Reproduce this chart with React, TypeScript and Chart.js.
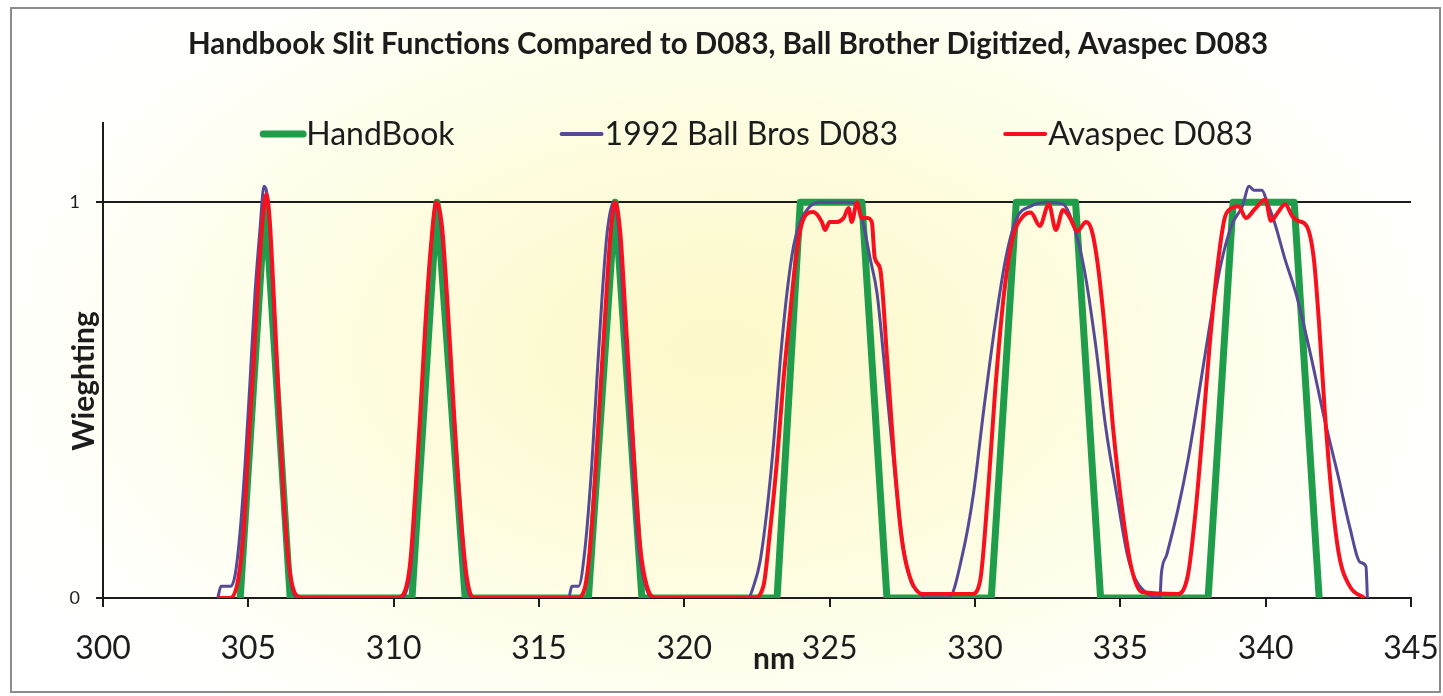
import { useEffect, useRef } from "react";
import { Chart, registerables } from "chart.js";

Chart.register(...registerables);

const chartTitle = "Handbook Slit Functions Compared to D083, Ball Brother Digitized, Avaspec D083";
const xAxisTitle = "nm";
const yAxisTitle = "Wieghting";
const seriesNames = ["HandBook", "1992 Ball Bros D083", "Avaspec D083"];
const seriesColors = ["#1f9d4b", "#564a97", "#f8101e"];
const seriesWidths = [7, 3, 4];

const xMin = 300;
const xMax = 345;
const xStep = 5;
const yMin = 0;
const yMax = 1.2;
const yTickValues = [0, 1];

const handbookNm = [304.72, 305.58, 306.44, 310.63, 311.49, 312.46, 316.7, 317.62, 318.54, 323.19, 323.99, 326.11, 326.97, 330.56, 331.42, 333.46, 334.32, 338.02, 338.88, 340.98, 341.84];
const handbookW = [0, 1, 0, 0, 1, 0, 0, 1, 0, 0, 1, 1, 0, 0, 1, 1, 0, 0, 1, 1, 0];

const ballNm = [
  303.95, 304.06, 304.4, 304.55, 304.72, 304.89, 305.06, 305.23, 305.4, 305.54, 305.66, 305.77, 305.92, 306.1, 306.27, 306.44, 306.67,
  310.2, 310.45, 310.62, 310.78, 310.95, 311.12, 311.3, 311.47, 311.65, 311.82, 312.0, 312.17, 312.34, 312.5, 312.7,
  316.02, 316.13, 316.36, 316.59, 316.82, 316.99, 317.17, 317.34, 317.56, 317.73, 317.9, 318.08, 318.25, 318.42, 318.71, 318.94,
  322.2, 322.38, 322.6, 322.84, 323.07, 323.3, 323.53, 323.76, 323.99, 324.33, 324.67, 325.13, 325.6, 325.94, 326.17, 326.4, 326.63, 326.97, 327.31, 327.55, 327.8, 328.0, 328.3,
  329.1, 329.57, 329.94, 330.3, 330.69, 331.05, 331.42, 331.92, 332.54, 333.03, 333.4, 333.76, 334.14, 334.5, 334.88, 335.24, 335.5, 335.86, 336.36,
  336.41, 336.6, 336.97, 337.33, 337.71, 338.08, 338.45, 338.82, 339.2, 339.43, 339.6, 339.87, 340.05, 340.3, 340.67, 341.04, 341.53, 342.03, 342.52, 342.89, 343.26, 343.45, 343.5,
];
const ballW = [
  0, 0.03, 0.03, 0.06, 0.17, 0.34, 0.55, 0.77, 0.93, 1.04, 1.01, 0.89, 0.64, 0.38, 0.17, 0.05, 0,
  0, 0.02, 0.1, 0.28, 0.5, 0.72, 0.9, 1.0, 0.92, 0.75, 0.53, 0.32, 0.15, 0.04, 0,
  0, 0.03, 0.03, 0.13, 0.34, 0.55, 0.76, 0.92, 1.0, 0.94, 0.74, 0.51, 0.3, 0.13, 0.02, 0,
  0, 0.03, 0.09, 0.22, 0.39, 0.6, 0.77, 0.89, 0.95, 0.99, 1.0, 1.0, 1.0, 0.995, 0.94, 0.855, 0.77, 0.52, 0.265, 0.12, 0.04, 0.02, 0,
  0, 0.11, 0.26, 0.475, 0.69, 0.855, 0.957, 0.99, 1.0, 0.995, 0.94, 0.83, 0.645, 0.43, 0.26, 0.11, 0.05, 0.015, 0,
  0.06, 0.11, 0.22, 0.35, 0.52, 0.69, 0.84, 0.94, 0.99, 1.04, 1.03, 1.03, 1.0, 0.95, 0.855, 0.77, 0.62, 0.45, 0.3, 0.18, 0.09, 0.08, 0,
];

const avaspecNm = [
  303.95, 304.38, 304.66, 304.84, 305.0, 305.18, 305.35, 305.5, 305.62, 305.73, 305.87, 306.04, 306.21, 306.39, 306.62, 306.9,
  310.11, 310.34, 310.57, 310.74, 310.92, 311.09, 311.26, 311.47, 311.66, 311.83, 312.01, 312.18, 312.35, 312.52, 312.75,
  316.3, 316.59, 316.76, 316.93, 317.1, 317.28, 317.45, 317.62, 317.8, 317.97, 318.14, 318.31, 318.48, 318.71, 319.06,
  322.38, 322.72, 322.95, 323.18, 323.41, 323.64, 323.81, 323.99, 324.21, 324.44, 324.73, 324.84, 325.0, 325.25, 325.48, 325.65, 325.76, 325.94, 326.1, 326.28, 326.45, 326.55, 326.74, 326.98, 327.22, 327.48, 327.73, 328.2,
  329.7, 329.9, 330.18, 330.44, 330.69, 331.0, 331.3, 331.66, 331.92, 332.23, 332.54, 332.78, 333.03, 333.27, 333.52, 333.82, 334.01, 334.2, 334.45, 334.75, 335.07, 335.37, 335.74,
  336.97, 337.33, 337.59, 337.84, 338.08, 338.33, 338.58, 338.76, 339.07, 339.32, 339.62, 339.99, 340.18, 340.42, 340.67, 340.91, 341.1, 341.41, 341.66, 341.84, 342.03, 342.27, 342.52, 342.89, 343.4,
];
const avaspecW = [
  0, 0, 0.05, 0.17, 0.38, 0.59, 0.81, 0.96, 1.02, 0.96, 0.77, 0.51, 0.26, 0.09, 0.01, 0,
  0, 0.01, 0.09, 0.26, 0.47, 0.69, 0.87, 1.0, 0.94, 0.77, 0.55, 0.34, 0.17, 0.05, 0,
  0, 0.03, 0.13, 0.3, 0.51, 0.72, 0.91, 1.0, 0.92, 0.72, 0.51, 0.3, 0.13, 0.03, 0,
  0, 0.03, 0.17, 0.34, 0.55, 0.72, 0.84, 0.93, 0.97, 0.975, 0.95, 0.93, 0.95, 0.95, 0.96, 0.985, 0.95, 1.0, 0.96, 0.96, 0.95, 0.86, 0.83, 0.6, 0.35, 0.15, 0.06, 0.01,
  0.01, 0.01, 0.045, 0.26, 0.52, 0.77, 0.91, 0.965, 0.974, 0.94, 0.995, 0.93, 0.98, 0.96, 0.927, 0.95, 0.93, 0.855, 0.69, 0.43, 0.22, 0.08, 0.015,
  0.01, 0.06, 0.22, 0.43, 0.645, 0.83, 0.957, 0.982, 0.99, 0.96, 0.982, 1.007, 0.953, 0.974, 0.995, 0.965, 0.953, 0.94, 0.855, 0.69, 0.475, 0.26, 0.11, 0.03, 0,
];

const toPoints = (xs: number[], ys: number[]) => xs.map((x, i) => ({ x, y: ys[i] }));

const FONT = "Lato, 'Open Sans', sans-serif";
const INK = "#1c1c1c";

const decorPlugin = {
  id: "decor",
  beforeDraw(chart: any) {
    const { ctx, width, height } = chart;
    ctx.save();
    ctx.fillStyle = "#ffffff";
    ctx.fillRect(0, 0, width, height);
    const cx = 720;
    const cy = 350;
    const sy = 0.6;
    ctx.save();
    ctx.beginPath();
    ctx.rect(11, 8, 1429, 684);
    ctx.clip();
    ctx.translate(cx, cy);
    ctx.scale(1, sy);
    const g = ctx.createRadialGradient(0, 0, 0, 0, 0, 800);
    g.addColorStop(0, "rgb(252,248,200)");
    g.addColorStop(0.45, "rgb(253,252,222)");
    g.addColorStop(0.85, "rgb(255,255,250)");
    g.addColorStop(1, "rgb(255,255,255)");
    ctx.fillStyle = g;
    ctx.fillRect(-cx, -cy / sy, width, height / sy);
    ctx.restore();
    ctx.strokeStyle = "#8c8c8c";
    ctx.lineWidth = 2;
    ctx.strokeRect(11, 8, 1429, 684);
    ctx.restore();
  },
  afterDraw(chart: any) {
    const { ctx, chartArea } = chart;
    ctx.save();
    // title
    ctx.fillStyle = INK;
    ctx.font = `bold 29.5px ${FONT}`;
    ctx.textAlign = "center";
    ctx.textBaseline = "alphabetic";
    ctx.fillText(chartTitle, 728, 54);

    // legend
    ctx.font = `32px ${FONT}`;
    const lineLen = 42;
    const lineGap = 3;
    const itemGap = 105;
    const items = chart.data.datasets.map((ds: any) => ({
      label: ds.label,
      color: ds.borderColor,
      lw: ds.borderWidth,
      w: lineLen + lineGap + ctx.measureText(ds.label).width,
    }));
    const total = items.reduce((s: number, it: any) => s + it.w, 0) + itemGap * (items.length - 1);
    let x = (chartArea.left + chartArea.right) / 2 - total / 2;
    const ly = 134;
    for (const it of items) {
      ctx.strokeStyle = it.color;
      ctx.lineWidth = it.lw === 7 ? 7 : 4;
      ctx.lineCap = "round";
      ctx.beginPath();
      ctx.moveTo(x + 2, ly);
      ctx.lineTo(x + lineLen, ly);
      ctx.stroke();
      ctx.fillStyle = INK;
      ctx.textAlign = "left";
      ctx.textBaseline = "alphabetic";
      ctx.fillText(it.label, x + lineLen + lineGap, 145);
      x += it.w + itemGap;
    }

    // axis titles
    ctx.fillStyle = INK;
    ctx.font = `bold 30px ${FONT}`;
    ctx.textAlign = "center";
    ctx.textBaseline = "alphabetic";
    ctx.fillText(xAxisTitle, 774, 669);

    ctx.save();
    ctx.translate(94, 381);
    ctx.rotate(-Math.PI / 2);
    ctx.fillText(yAxisTitle, 0, 0);
    ctx.restore();
    ctx.restore();
  },
};

export default function App() {
  const canvasRef = useRef<HTMLCanvasElement | null>(null);

  useEffect(() => {
    let chart: Chart | null = null;
    let cancelled = false;
    const build = () => {
      if (cancelled || !canvasRef.current) return;
      chart = new Chart(canvasRef.current, {
        type: "line",
        data: {
          datasets: [
            {
              label: seriesNames[0],
              data: toPoints(handbookNm, handbookW),
              borderColor: seriesColors[0],
              borderWidth: seriesWidths[0],
              pointRadius: 0,
              tension: 0,
              borderJoinStyle: "round",
              order: 3,
            },
            {
              label: seriesNames[1],
              data: toPoints(ballNm, ballW),
              borderColor: seriesColors[1],
              borderWidth: seriesWidths[1],
              pointRadius: 0,
              cubicInterpolationMode: "monotone",
              order: 2,
            },
            {
              label: seriesNames[2],
              data: toPoints(avaspecNm, avaspecW),
              borderColor: seriesColors[2],
              borderWidth: seriesWidths[2],
              pointRadius: 0,
              cubicInterpolationMode: "monotone",
              order: 1,
            },
          ] as any,
        },
        options: {
          animation: false,
          responsive: true,
          maintainAspectRatio: false,
          devicePixelRatio: 1,
          layout: { padding: { top: 123, left: 0, right: 32, bottom: 0 } },
          plugins: {
            legend: { display: false },
            title: { display: false },
            tooltip: { enabled: false },
          },
          scales: {
            x: {
              type: "linear",
              min: xMin,
              max: xMax,
              afterFit: (s: any) => {
                s.height = 98;
                s.paddingLeft = 0;
                s.paddingRight = 0;
              },
              ticks: {
                stepSize: xStep,
                color: INK,
                font: { family: FONT, size: 32 },
                padding: 22,
                maxRotation: 0,
                autoSkip: false,
              },
              grid: {
                drawOnChartArea: false,
                drawTicks: true,
                tickLength: 9,
                color: INK,
                lineWidth: 2,
              },
              border: { display: true, color: INK, width: 2 },
            },
            y: {
              type: "linear",
              min: yMin,
              max: yMax,
              afterFit: (s: any) => {
                s.width = 103;
                s.paddingTop = 0;
                s.paddingBottom = 0;
              },
              afterBuildTicks: (s: any) => {
                s.ticks = yTickValues.map((v) => ({ value: v }));
              },
              ticks: {
                color: INK,
                font: { family: FONT, size: 18 },
                padding: 16,
              },
              grid: {
                drawOnChartArea: true,
                drawTicks: true,
                tickLength: 7,
                color: INK,
                lineWidth: 2,
              },
              border: { display: true, color: INK, width: 2 },
            },
          },
        },
        plugins: [decorPlugin],
      } as any);
    };
    const fonts: any = (document as any).fonts;
    if (fonts && fonts.load) {
      Promise.all([fonts.load(`32px Lato`), fonts.load(`bold 28px Lato`)])
        .catch(() => null)
        .then(build);
    } else {
      build();
    }
    return () => {
      cancelled = true;
      if (chart) chart.destroy();
    };
  }, []);

  return (
    <div style={{ position: "fixed", left: 0, top: 0, width: 1443, height: 696 }}>
      <canvas ref={canvasRef} />
    </div>
  );
}
